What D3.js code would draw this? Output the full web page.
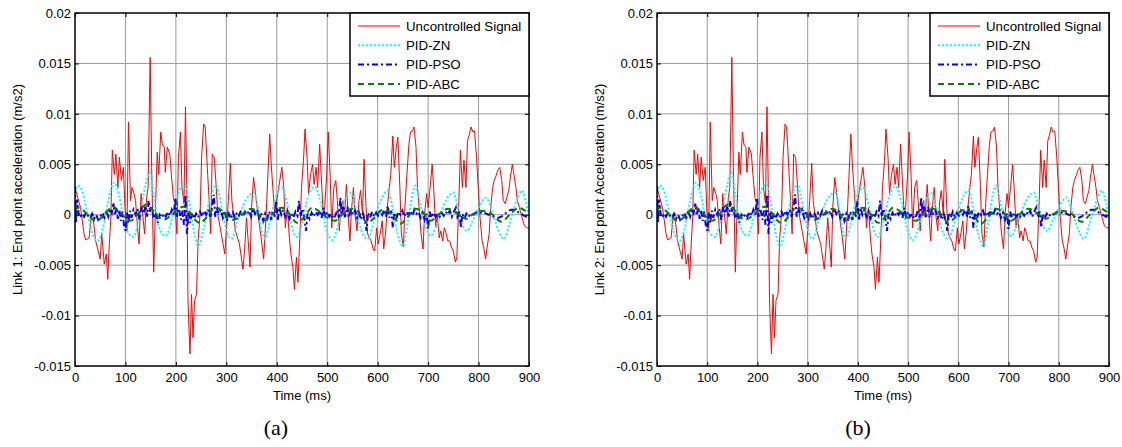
<!DOCTYPE html>
<html>
<head>
<meta charset="utf-8">
<script src="https://cdnjs.cloudflare.com/ajax/libs/d3/7.8.5/d3.min.js"></script>
<style>
  body { margin: 0; background: #fff; }
  svg { display: block; font-family: "Liberation Sans", Arial, sans-serif; }
</style>
</head>
<body>
<svg id="chart"></svg>
<script>
const width = 1122;
const height = 447;

const xTicks = [0, 100, 200, 300, 400, 500, 600, 700, 800, 900];
const yTicks = [-0.015, -0.01, -0.005, 0, 0.005, 0.01, 0.015, 0.02];
const seriesNames = ["Uncontrolled Signal", "PID-ZN", "PID-PSO", "PID-ABC"];

// [time (ms), acceleration (m/s2)]
const uncontrolled = [
  [0,0.0027],[11,0.0007],[18,-0.0019],[21,-0.0025],[28,-0.0023],[32,-0.0003],[35,0.0001],[41,-0.0026],
  [50,-0.0044],[53,-0.0019],[58,-0.0049],[62,-0.0039],[65,-0.0064],[67,-0.0039],[71,-0.0003],[74,0.0064],
  [78,0.0040],[81,0.0060],[85,0.0027],[88,0.0057],[92,0.0034],[96,0.0047],[99,0.0007],[103,-0.0016],
  [106,0.0092],[110,0.0014],[113,0.0027],[117,0.0021],[120,0.0014],[124,-0.0013],[127,-0.0029],[131,0.0021],
  [134,0.0001],[138,-0.0019],[142,0.0017],[145,0.0027],[149,0.0156],[152,0.0047],[156,-0.0057],[159,-0.0003],
  [163,0.0062],[166,0.0040],[170,0.0082],[173,0.0070],[177,0.0067],[179,0.0042],[183,0.0067],[188,0.0060],
  [191,0.0040],[195,0.0017],[198,0.0011],[202,-0.0019],[205,0.0057],[209,0.0082],[212,0.0027],[216,0.0011],
  [219,0.0107],[222,0.0014],[224,-0.0084],[226,-0.0114],[228,-0.0138],[231,-0.0079],[234,-0.0122],[237,-0.0085],
  [241,-0.0079],[244,-0.0026],[248,0.0001],[251,0.0057],[255,0.0090],[258,0.0087],[260,0.0070],[263,0.0040],
  [266,0.0014],[269,-0.0019],[272,0.0060],[276,0.0057],[280,0.0027],[283,0.0001],[290,-0.0019],[297,-0.0039],
  [304,0.0014],[308,0.0051],[311,0.0014],[318,-0.0016],[326,-0.0029],[333,-0.0054],[336,-0.0036],[340,-0.0003],
  [347,-0.0052],[350,0.0007],[354,0.0037],[361,0.0007],[368,-0.0019],[374,-0.0044],[379,0.0001],[386,0.0080],
  [389,0.0050],[393,0.0021],[396,0.0001],[403,0.0024],[410,0.0047],[414,0.0027],[417,-0.0013],[421,0.0007],
  [425,-0.0023],[428,-0.0039],[432,-0.0052],[435,-0.0074],[439,-0.0042],[442,-0.0067],[446,-0.0019],[449,0.0027],
  [453,0.0054],[456,0.0085],[460,0.0057],[463,0.0021],[467,0.0040],[471,0.0050],[474,0.0030],[478,0.0047],
  [481,0.0027],[485,0.0070],[488,0.0040],[492,0.0001],[495,0.0007],[499,0.0040],[502,0.0082],[506,0.0037],
  [509,-0.0013],[513,0.0027],[517,0.0034],[520,0.0014],[524,-0.0016],[527,0.0007],[531,0.0014],[534,-0.0003],
  [538,0.0030],[541,0.0004],[545,-0.0026],[548,0.0004],[552,0.0027],[555,0.0001],[559,-0.0016],[563,0.0014],
  [566,0.0024],[570,0.0001],[573,0.0055],[577,0.0007],[580,-0.0019],[587,-0.0026],[591,-0.0034],[594,-0.0036],
  [598,-0.0013],[601,-0.0029],[605,-0.0019],[609,-0.0006],[612,-0.0034],[616,-0.0016],[619,0.0007],[623,0.0027],
  [626,0.0040],[630,0.0078],[633,0.0047],[637,0.0067],[640,0.0077],[644,0.0027],[647,-0.0019],[651,-0.0032],
  [654,0.0007],[658,0.0040],[662,0.0070],[665,0.0082],[669,0.0083],[672,0.0087],[676,0.0067],[679,0.0027],
  [683,0.0001],[686,-0.0019],[690,-0.0034],[693,0.0001],[697,0.0021],[700,0.0007],[704,0.0027],[708,0.0050],
  [711,0.0027],[715,-0.0013],[718,0.0001],[722,-0.0023],[725,-0.0016],[729,-0.0026],[732,-0.0013],[736,-0.0019],
  [739,-0.0026],[743,-0.0026],[746,-0.0032],[750,-0.0036],[754,-0.0047],[757,-0.0042],[761,0.0014],[764,0.0064],
  [768,0.0027],[771,0.0054],[775,0.0027],[778,0.0073],[782,0.0080],[785,0.0087],[789,0.0082],[792,0.0083],
  [796,0.0057],[800,0.0021],[803,-0.0003],[807,-0.0026],[810,-0.0032],[814,-0.0044],[817,-0.0032],[821,-0.0019],
  [824,0.0007],[828,0.0027],[831,0.0034],[835,0.0039],[838,0.0044],[842,0.0047],[846,0.0034],[849,0.0014],
  [853,0.0011],[856,0.0017],[860,0.0024],[863,0.0037],[867,0.0050],[870,0.0040],[874,0.0027],[877,0.0014],
  [881,0.0007],[884,0.0001],[888,-0.0006],[891,-0.0011],[895,-0.0013],[900,-0.0013]
];

const pidZN = [
  [0,0.0022],[6,0.0029],[14,0.0024],[24,0.0002],[34,-0.0018],[45,-0.0026],[55,-0.0014],[65,0.0012],
  [78,0.0032],[88,0.0018],[100,-0.0012],[115,-0.0022],[128,-0.0002],[140,0.0030],[148,0.0042],[156,0.0020],
  [166,-0.0012],[180,-0.0021],[195,0.0002],[208,0.0025],[218,0.0030],[228,0.0008],[238,-0.0022],[245,-0.0031],
  [255,-0.0014],[268,0.0018],[280,0.0029],[292,0.0004],[302,-0.0018],[310,-0.0024],[322,-0.0006],[338,0.0014],
  [355,0.0022],[363,0.0006],[370,-0.0016],[376,-0.0024],[385,-0.0010],[397,0.0016],[410,0.0027],[422,0.0008],
  [432,-0.0016],[440,-0.0022],[450,-0.0008],[462,0.0018],[475,0.0028],[487,0.0012],[499,-0.0016],[510,-0.0025],
  [522,-0.0010],[533,0.0012],[545,0.0022],[557,0.0005],[568,-0.0016],[580,-0.0024],[592,-0.0008],[606,0.0014],
  [620,0.0024],[630,0.0006],[640,-0.0020],[650,-0.0031],[660,-0.0006],[668,0.0018],[675,0.0029],[684,0.0012],
  [694,-0.0010],[705,-0.0021],[718,-0.0008],[735,0.0014],[750,0.0022],[760,0.0006],[768,-0.0010],[777,-0.0016],
  [790,-0.0004],[803,0.0010],[815,0.0017],[826,0.0005],[838,-0.0014],[850,-0.0024],[862,-0.0008],[874,0.0012],
  [886,0.0024],[894,0.0012],[900,-0.0002]
];

const pidPSO = [
  [0,0.0028],[2,-0.0008],[4,0.0015],[7,0.0002],[10,-0.0003],[14,0.0001],[18,-0.0002],[22,0.0002],
  [26,-0.0001],[30,-0.0003],[34,0.0001],[38,-0.0004],[42,0.0000],[46,-0.0005],[50,-0.0002],[54,0.0002],
  [58,-0.0003],[62,0.0004],[66,-0.0002],[70,0.0006],[73,0.0002],[76,0.0012],[79,-0.0001],[82,0.0007],
  [85,-0.0004],[88,0.0005],[91,-0.0006],[94,0.0003],[97,-0.0010],[100,-0.0016],[103,0.0002],[106,-0.0008],
  [109,0.0004],[112,-0.0003],[116,0.0005],[120,0.0000],[124,0.0006],[128,-0.0005],[132,0.0008],[136,0.0001],
  [140,0.0009],[143,-0.0002],[146,0.0014],[149,0.0003],[152,0.0008],[156,-0.0004],[160,0.0002],[164,-0.0008],
  [168,0.0000],[172,-0.0003],[176,0.0001],[180,-0.0002],[184,0.0003],[188,-0.0001],[192,0.0005],[196,0.0000],
  [199,0.0017],[202,-0.0002],[206,0.0006],[210,-0.0005],[213,0.0004],[216,-0.0010],[219,0.0020],[222,-0.0019],
  [225,0.0003],[228,-0.0008],[232,0.0002],[236,-0.0004],[240,0.0001],[244,-0.0003],[248,0.0003],[252,-0.0002],
  [256,0.0004],[260,0.0000],[264,0.0005],[268,-0.0002],[272,0.0008],[275,0.0020],[278,-0.0002],[281,0.0007],
  [285,0.0001],[289,0.0005],[293,-0.0003],[297,0.0004],[301,-0.0006],[305,0.0001],[309,-0.0004],[313,0.0002],
  [317,-0.0003],[321,0.0002],[325,-0.0001],[329,0.0004],[333,-0.0002],[337,0.0003],[341,0.0000],[345,0.0004],
  [349,-0.0002],[353,0.0006],[357,0.0001],[361,0.0005],[365,-0.0003],[369,0.0002],[373,-0.0006],[377,0.0001],
  [381,-0.0004],[385,0.0003],[389,-0.0005],[392,0.0004],[396,-0.0002],[399,0.0014],[402,-0.0006],[405,0.0007],
  [409,0.0000],[413,0.0005],[417,-0.0002],[421,0.0003],[425,-0.0004],[429,0.0001],[433,-0.0003],[437,0.0003],
  [441,-0.0001],[444,0.0014],[447,-0.0002],[451,0.0006],[455,-0.0005],[458,-0.0016],[461,0.0001],[465,-0.0004],
  [469,0.0002],[473,-0.0002],[477,0.0003],[481,0.0000],[485,0.0004],[489,-0.0003],[492,0.0007],[496,-0.0002],
  [500,0.0003],[504,-0.0002],[508,0.0001],[512,-0.0004],[516,-0.0001],[520,0.0005],[523,-0.0003],[526,0.0017],
  [529,0.0000],[532,0.0009],[536,-0.0002],[540,0.0008],[543,-0.0003],[547,0.0005],[551,0.0000],[555,0.0004],
  [559,-0.0003],[563,0.0002],[567,-0.0005],[571,0.0001],[575,-0.0006],[578,-0.0016],[581,0.0002],[585,-0.0003],
  [589,0.0003],[593,-0.0002],[597,0.0002],[601,-0.0001],[605,0.0004],[609,0.0000],[613,0.0005],[617,-0.0002],
  [620,0.0009],[623,-0.0003],[627,0.0004],[630,-0.0013],[633,0.0002],[637,-0.0004],[641,0.0003],[645,0.0000],
  [649,0.0004],[653,-0.0002],[657,0.0003],[661,0.0000],[665,0.0004],[669,-0.0001],[673,0.0005],[677,0.0001],
  [681,0.0003],[685,-0.0003],[689,0.0002],[693,-0.0005],[697,0.0001],[700,-0.0014],[703,0.0003],[707,-0.0003],
  [711,0.0002],[715,-0.0002],[719,0.0001],[723,-0.0002],[727,0.0002],[731,-0.0001],[735,0.0003],[739,0.0000],
  [743,0.0004],[747,-0.0002],[751,0.0003],[755,0.0007],[758,-0.0002],[762,0.0003],[765,-0.0013],[768,0.0001],
  [772,-0.0004],[776,0.0001],[780,-0.0002],[785,0.0001],[790,0.0000],[795,0.0002],[800,0.0003],[805,0.0002],
  [810,0.0003],[815,0.0001],[820,0.0000],[825,-0.0001],[830,-0.0002],[835,-0.0003],[840,-0.0003],[845,-0.0002],
  [850,0.0000],[855,0.0002],[860,0.0004],[865,0.0005],[870,0.0005],[875,0.0004],[880,0.0002],[885,0.0001],
  [890,-0.0001],[895,-0.0002],[900,-0.0003]
];

const pidABC = [
  [0,0.0004],[5,0.0007],[15,0.0005],[25,0.0000],[40,-0.0006],[55,-0.0002],[65,0.0004],[75,0.0008],
  [88,0.0003],[100,-0.0003],[110,-0.0006],[125,0.0001],[140,0.0010],[152,0.0006],[163,-0.0001],[175,-0.0005],
  [190,-0.0001],[203,0.0005],[215,0.0008],[228,0.0002],[238,-0.0005],[247,-0.0008],[262,-0.0002],[272,0.0005],
  [282,0.0007],[295,0.0002],[305,-0.0003],[315,-0.0005],[330,0.0000],[350,0.0006],[362,0.0002],[375,-0.0006],
  [390,0.0000],[410,0.0007],[425,0.0001],[440,-0.0008],[455,-0.0002],[470,0.0007],[485,0.0003],[500,-0.0003],
  [515,-0.0006],[530,0.0000],[550,0.0006],[565,0.0001],[580,-0.0008],[595,-0.0002],[610,0.0005],[628,0.0001],
  [645,-0.0009],[660,-0.0002],[675,0.0006],[690,0.0002],[705,-0.0006],[720,0.0000],[740,0.0006],[758,0.0001],
  [775,-0.0004],[790,0.0001],[805,0.0004],[825,0.0001],[845,-0.0007],[862,0.0000],[880,0.0007],[892,0.0004],
  [900,0.0001]
];

const panels = [
  { left: 75,  right: 529,  ylabel: "Link 1: End point acceleration (m/s2)", tag: "(a)", tagX: 276 },
  { left: 657, right: 1109, ylabel: "Link 2: End point Acceleration (m/s2)", tag: "(b)", tagX: 858 }
];
const plotTop = 13, plotBottom = 366;

const styles = [
  { color: "#ff0000", w: 1,   dash: null,      curve: d3.curveLinear },
  { color: "#00ffff", w: 2,   dash: "2,2",     curve: d3.curveMonotoneX },
  { color: "#0000ff", w: 2,   dash: "6,3,2,3", curve: d3.curveLinear },
  { color: "#008000", w: 2,   dash: "6,4",     curve: d3.curveMonotoneX }
];
const seriesData = [uncontrolled, pidZN, pidPSO, pidABC];

const svg = d3.select("#chart")
  .attr("width", width)
  .attr("height", height)
  .attr("viewBox", `0 0 ${width} ${height}`);

const fmt = d => d === 0 ? "0" : String(+d.toFixed(3));

panels.forEach((p, pi) => {
  const x = d3.scaleLinear().domain([0, 900]).range([p.left, p.right]);
  const y = d3.scaleLinear().domain([-0.015, 0.02]).range([plotBottom, plotTop]);
  const g = svg.append("g");

  // grid
  g.append("g").selectAll("line").data(xTicks.slice(1, -1)).join("line")
    .attr("x1", d => x(d)).attr("x2", d => x(d)).attr("y1", plotTop).attr("y2", plotBottom)
    .attr("stroke", "#9a9a9a").attr("stroke-width", 1);
  g.append("g").selectAll("line").data(yTicks.slice(1, -1)).join("line")
    .attr("x1", p.left).attr("x2", p.right).attr("y1", d => y(d)).attr("y2", d => y(d))
    .attr("stroke", "#9a9a9a").attr("stroke-width", 1);

  // lines
  const clipId = "clip" + pi;
  svg.append("clipPath").attr("id", clipId).append("rect")
    .attr("x", p.left).attr("y", plotTop).attr("width", p.right - p.left).attr("height", plotBottom - plotTop);

  const lines = g.append("g").attr("clip-path", `url(#${clipId})`);
  seriesData.forEach((data, i) => {
    const s = styles[i];
    lines.append("path")
      .datum(data)
      .attr("fill", "none")
      .attr("stroke", s.color)
      .attr("stroke-width", s.w)
      .attr("stroke-dasharray", s.dash)
      .attr("d", d3.line().x(d => x(d[0])).y(d => y(d[1])).curve(s.curve));
  });

  // axes with inward ticks
  const axisStyle = sel => {
    sel.select(".domain").remove();
    sel.selectAll("line").attr("stroke", "#000");
    sel.selectAll("text").attr("font-size", 13).attr("fill", "#000")
      .attr("font-family", "'Liberation Sans', Arial, sans-serif");
  };
  g.append("g").attr("transform", `translate(0,${plotBottom})`)
    .call(d3.axisBottom(x).tickValues(xTicks).tickSize(-4).tickPadding(7).tickFormat(d3.format("d")))
    .call(axisStyle);
  g.append("g").attr("transform", `translate(0,${plotTop})`)
    .call(d3.axisTop(x).tickValues(xTicks).tickSize(-4).tickFormat(""))
    .call(axisStyle);
  g.append("g").attr("transform", `translate(${p.left},0)`)
    .call(d3.axisLeft(y).tickValues(yTicks).tickSize(-4).tickPadding(4).tickFormat(fmt))
    .call(axisStyle);
  g.append("g").attr("transform", `translate(${p.right},0)`)
    .call(d3.axisRight(y).tickValues(yTicks).tickSize(-4).tickFormat(""))
    .call(axisStyle);

  g.append("rect")
    .attr("x", p.left).attr("y", plotTop).attr("width", p.right - p.left).attr("height", plotBottom - plotTop)
    .attr("fill", "none").attr("stroke", "#000").attr("stroke-width", 1.5);

  // labels
  g.append("text")
    .attr("transform", `translate(${p.left - 58},${(plotTop + plotBottom) / 2}) rotate(-90)`)
    .attr("text-anchor", "middle").attr("dy", "0.35em")
    .attr("font-size", 13)
    .text(p.ylabel);
  g.append("text")
    .attr("x", (p.left + p.right) / 2).attr("y", 400)
    .attr("text-anchor", "middle").attr("font-size", 13)
    .text("Time (ms)");
  g.append("text")
    .attr("x", p.tagX).attr("y", 435)
    .attr("text-anchor", "middle").attr("font-size", 22)
    .attr("font-family", "'Liberation Serif', 'Times New Roman', serif")
    .text(p.tag);

  // legend
  const lx = p.right - 179, ly = plotTop;
  const legend = g.append("g");
  legend.append("rect")
    .attr("x", lx).attr("y", ly).attr("width", 179).attr("height", 83)
    .attr("fill", "#fff").attr("stroke", "#000").attr("stroke-width", 1.5);
  seriesNames.forEach((name, i) => {
    const s = styles[i];
    const yy = ly + 13 + i * 19.3;
    legend.append("line")
      .attr("x1", lx + 8).attr("x2", lx + 50).attr("y1", yy).attr("y2", yy)
      .attr("stroke", s.color).attr("stroke-width", s.w).attr("stroke-dasharray", s.dash);
    legend.append("text")
      .attr("x", lx + 56).attr("y", yy).attr("dy", "0.35em")
      .attr("font-size", 13.3)
      .text(name);
  });
});
</script>
</body>
</html>
